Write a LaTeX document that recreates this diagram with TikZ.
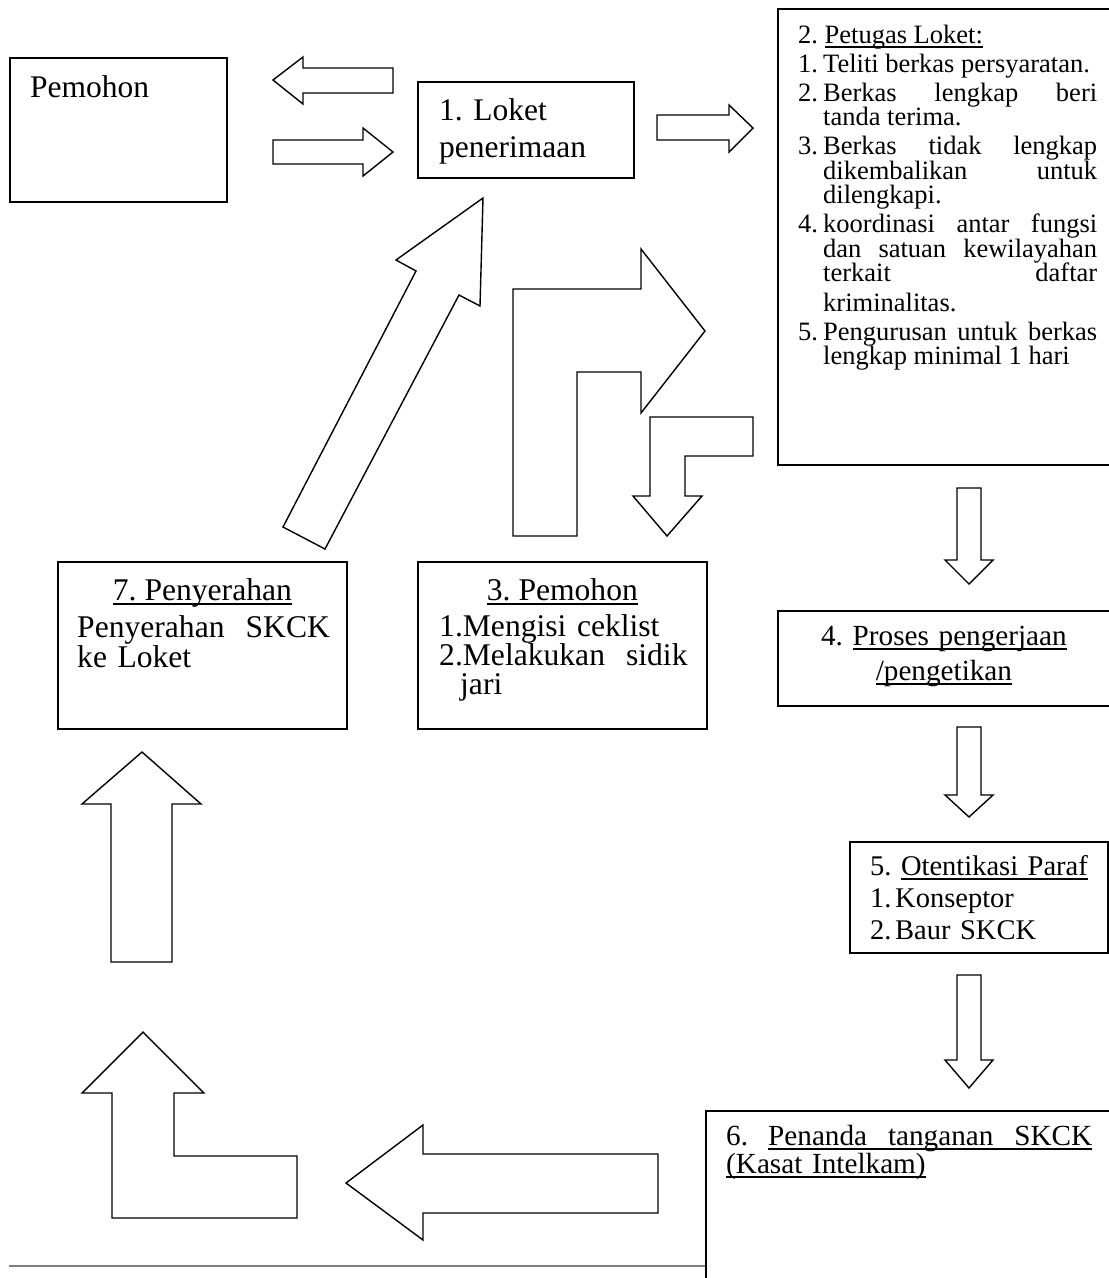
\documentclass[tikz,border=0pt]{standalone}
\usepackage{fontspec}
\setmainfont{Liberation Serif}
\usetikzlibrary{calc,positioning}
\frenchspacing
\tolerance=10000
\hbadness=10000
\newcommand{\butir}[1]{\par\hangindent=25pt\hangafter=1\noindent\makebox[25pt][l]{#1}}
\newcommand{\garis}[1]{\leavevmode\setbox0\hbox{#1}\rlap{\rule[-5pt]{\wd0}{1.8pt}}\box0}

\begin{document}
\begin{tikzpicture}[x=1pt,y=-1pt,
  kotak/.style={draw,line width=1.8pt,inner sep=0pt,anchor=north west},
  panah/.style={draw,line width=1.4pt,line join=miter},
  teks/.style={inner sep=0pt,anchor=base west},
  judul/.style={inner sep=0pt,anchor=base}]
\useasboundingbox (0,0) rectangle (1109,1278);

% kotak-kotak
\node[kotak,minimum width=217pt,minimum height=144pt] (pemohon) at (9,57) {};
\node[kotak,minimum width=216pt,minimum height=96pt] (loket) at (417,81) {};
\node[kotak,minimum width=338pt,minimum height=456pt] (petugas) at (777,8) {};
\node[kotak,minimum width=289pt,minimum height=167pt] (serah) at (57,561) {};
\node[kotak,minimum width=289pt,minimum height=167pt] (mohon) at (417,561) {};
\node[kotak,minimum width=338pt,minimum height=95pt] (proses) at (777,610) {};
\node[kotak,minimum width=258pt,minimum height=111pt] (paraf) at (849,841) {};
\node[kotak,minimum width=410pt,minimum height=180pt] (tanda) at (705,1110) {};

% teks
\node[teks,font=\fontsize{31.5}{37}\selectfont] (tPemohon) at ($(pemohon.north west)+(21,40)$) {Pemohon};
\node[teks,text width=190pt,align=left,font=\fontsize{31.5}{37}\selectfont] (tLoket)
  at ($(loket.north west)+(22,39)$) {1. Loket\\penerimaan};
\node[teks,text width=299pt,align=justify,font=\fontsize{26.5}{24.5}\selectfont] (tPetugas)
  at ($(petugas.north west)+(21,35)$) {\setlength{\parskip}{4.5pt}2. \garis{Petugas Loket:}
  \butir{1.}Teliti berkas persyaratan.
  \butir{2.}Berkas lengkap beri\linebreak tanda terima.
  \butir{3.}Berkas tidak lengkap\linebreak dikembalikan untuk\linebreak dilengkapi.
  \butir{4.}koordinasi antar fungsi\linebreak dan satuan kewilayahan\linebreak terkait daftar\vadjust{\vskip5pt}\linebreak kriminalitas.
  \butir{5.}Pengurusan untuk berkas\linebreak lengkap minimal 1 hari\par};
\node[judul,font=\fontsize{31.6}{37}\selectfont] (tSerah) at ($(serah.north)+(0,39)$) {\garis{7. Penyerahan}};
\node[teks,text width=260pt,align=left,font=\fontsize{31.6}{30}\selectfont] (tSerahIsi)
  at ($(serah.north west)+(20,76)$) {Penyerahan\ \ SKCK\\ke Loket};
\node[judul,font=\fontsize{31.6}{37}\selectfont] (tMohon) at ($(mohon.north)+(0,39)$) {\garis{3. Pemohon}};
\node[teks,text width=260pt,align=left,font=\fontsize{31.6}{28.5}\selectfont] (tMohonIsi)
  at ($(mohon.north west)+(22,75)$) {1.Mengisi ceklist\\2.Melakukan\ \ sidik\\\hspace*{21pt}jari};
\node[judul,text width=330pt,align=center,font=\fontsize{29.2}{35}\selectfont] (tProses)
  at ($(proses.north)+(-3,35)$) {4. \garis{Proses pengerjaan}\\\garis{/pengetikan}};
\node[teks,text width=230pt,align=left,font=\fontsize{28.5}{32}\selectfont] (tParaf)
  at ($(paraf.north west)+(21,34)$) {5. \garis{Otentikasi Paraf}
  \butir{1.}Konseptor
  \butir{2.}Baur SKCK\par};
\node[teks,text width=366pt,align=left,font=\fontsize{29.2}{28}\selectfont] (tTanda)
  at ($(tanda.north west)+(21,35)$) {\hbox to 366pt{6.\hfill\garis{\hbox to 324pt{Penanda\hfill tanganan\hfill SKCK}}}\\
  \garis{(Kasat Intelkam)}};

% panah atas
\draw[panah] (393,68) -- (303,68) -- (303,57) -- (273,80) -- (303,104) -- (303,93) -- (393,93) -- cycle;
\draw[panah] (273,140) -- (363,140) -- (363,128) -- (393,152) -- (363,176) -- (363,164) -- (273,164) -- cycle;
\draw[panah] (657,115) -- (729,115) -- (729,105) -- (753,128) -- (729,152) -- (729,140) -- (657,140) -- cycle;

% panah tengah
\draw[panah] (283,527) -- (416,271) -- (396,260) -- (483,198) -- (480,306) -- (459,295) -- (325,549) -- cycle;
\draw[panah] (513,536) -- (513,289) -- (641,289) -- (641,249) -- (705,331) -- (641,413) -- (641,372)
  -- (577,372) -- (577,536) -- cycle;
\draw[panah] (650,496) -- (650,417) -- (753,417) -- (753,456) -- (685,456) -- (685,496) -- (702,496)
  -- (667,536) -- (633,496) -- cycle;

% panah kanan (turun)
\draw[panah] (957,488) -- (981,488) -- (981,560) -- (993,560) -- (969,584) -- (945,560) -- (957,560) -- cycle;
\draw[panah] (957,727) -- (981,727) -- (981,795) -- (993,795) -- (969,817) -- (945,795) -- (957,795) -- cycle;
\draw[panah] (957,975) -- (981,975) -- (981,1060) -- (993,1060) -- (969,1088) -- (945,1060) -- (957,1060) -- cycle;

% panah kiri (naik)
\draw[panah] (658,1154) -- (423,1154) -- (423,1125) -- (346,1183) -- (423,1240) -- (423,1213) -- (658,1213) -- cycle;
\draw[panah] (112,1218) -- (112,1093) -- (82,1093) -- (143,1032) -- (204,1093) -- (174,1093) -- (174,1156)
  -- (297,1156) -- (297,1218) -- cycle;
\draw[panah] (111,962) -- (111,804) -- (82,804) -- (142,752) -- (201,804) -- (172,804) -- (172,962) -- cycle;

% garis bawah
\draw[gray,line width=1.5pt] (9,1266) -- (tanda.west |- 0,1266);
\end{tikzpicture}
\end{document}
